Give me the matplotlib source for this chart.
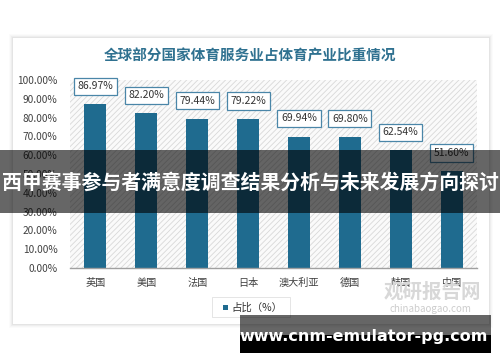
import matplotlib
matplotlib.use("Agg")
import matplotlib.pyplot as plt
from matplotlib.patches import Rectangle
from matplotlib.ticker import FuncFormatter, MultipleLocator

plt.rcParams['font.family'] = ['Noto Sans CJK SC', 'DejaVu Sans']
plt.rcParams['hatch.linewidth'] = 0.6

categories = ["英国", "美国", "法国", "日本", "澳大利亚", "德国", "韩国", "中国"]
values = [86.97, 82.20, 79.44, 79.22, 69.94, 69.80, 62.54, 51.60]
title = "全球部分国家体育服务业占体育产业比重情况"
legend_label = "占比（%）"
banner = "西甲赛事参与者满意度调查结果分析与未来发展方向探讨"
site = "www.cnm-emulator-pg.com"

W, H = 500, 362
fig = plt.figure(figsize=(W / 100, H / 100), dpi=100)
fig.patch.set_facecolor("white")

def fx(px):
    return px / W

def fy(py):
    return 1 - py / H

# card shadow & card
for i, a in enumerate([0.015, 0.02, 0.03, 0.04]):
    d = 4 - i
    fig.patches.append(Rectangle((fx(13 - d), fy(324 + d)), fx(476 + 2 * d), (286 + 2 * d) / H,
                                 transform=fig.transFigure, facecolor="black", alpha=a,
                                 edgecolor="none", zorder=0))
fig.patches.append(Rectangle((fx(13), fy(324)), fx(476), 286 / H, transform=fig.transFigure,
                             facecolor="white", edgecolor="none", zorder=0.5))

fig.text(0.5, fy(56), title, ha="center", va="center", fontsize=10.5, fontweight="bold",
         color="#2f7190")

ax = fig.add_axes([fx(70), fy(268), fx(477 - 70), (268 - 80) / H])
ax.set_zorder(1)
ax.set_facecolor("#fafafa")
ax.add_patch(Rectangle((0, 0), 1, 1, transform=ax.transAxes, facecolor="none",
                       edgecolor="#d8d8d8", hatch="//////", lw=0, zorder=0))

x = list(range(len(categories)))
ax.bar(x, values, width=0.43, color="#1f6b8f", zorder=2)
for xi, v in zip(x, values):
    ax.annotate(f"{v:.2f}%", (xi, v), xytext=(0, 13), textcoords="offset points",
                ha="center", va="center", fontsize=7.5, color="#333333",
                bbox=dict(boxstyle="square,pad=0.35", fc="white", ec="#4a86a8", lw=0.9),
                zorder=3)

ax.set_xlim(-0.5, 7.5)
ax.set_ylim(0, 100)
ax.yaxis.set_major_locator(MultipleLocator(10))
ax.yaxis.set_major_formatter(FuncFormatter(lambda v, p: f"{v:.2f}%"))
ax.set_xticks(x)
ax.set_xticklabels(categories)
ax.tick_params(axis="both", length=0, labelsize=7.3, colors="#404040")
ax.tick_params(axis="x", pad=7)
ax.tick_params(axis="y", pad=9)
for s in ["top", "right", "left"]:
    ax.spines[s].set_visible(False)
ax.spines["bottom"].set_color("#a0a0a0")
ax.spines["bottom"].set_linewidth(1)

# legend
fig.patches.append(Rectangle((fx(212), fy(317)), fx(78), 20 / H, transform=fig.transFigure,
                             facecolor="white", edgecolor="#e0e0e0", lw=0.6, zorder=3))
fig.patches.append(Rectangle((fx(223), fy(310)), fx(5), 5 / H, transform=fig.transFigure,
                             facecolor="#1f6b8f", edgecolor="none", zorder=4))
fig.text(fx(231), fy(307.5), legend_label, ha="left", va="center", fontsize=7.5,
         color="#333333", zorder=4)

# faint watermark
fig.text(fx(432), fy(292), "观研报告网", ha="center", va="center", fontsize=14,
         fontweight="bold", color="#d8d8d8", zorder=3)
fig.text(fx(430), fy(309), "chinabaogao.com", ha="center", va="center", fontsize=7,
         color="#cccccc", zorder=3)

# overlay banner
fig.patches.append(Rectangle((0, fy(213)), 1, 63 / H, transform=fig.transFigure,
                             facecolor="black", alpha=0.6, edgecolor="none", zorder=5))
fig.text(0.5, fy(182), banner, ha="center", va="center", fontsize=14.3, fontweight="bold",
         color="white", zorder=6)

# bottom site label
fig.patches.append(Rectangle((fx(240), fy(335)), fx(251), 20 / H, transform=fig.transFigure,
                             facecolor="black", alpha=0.6, edgecolor="none", zorder=5))
fig.patches.append(Rectangle((fx(240), fy(353)), fx(251), 18 / H, transform=fig.transFigure,
                             facecolor="black", edgecolor="none", zorder=5))
fig.text(fx(364), fy(336), site, ha="center", va="center", fontsize=11.5, fontweight="bold",
         color="white", family="DejaVu Sans", zorder=6)

fig.savefig("out.png", dpi=100)
